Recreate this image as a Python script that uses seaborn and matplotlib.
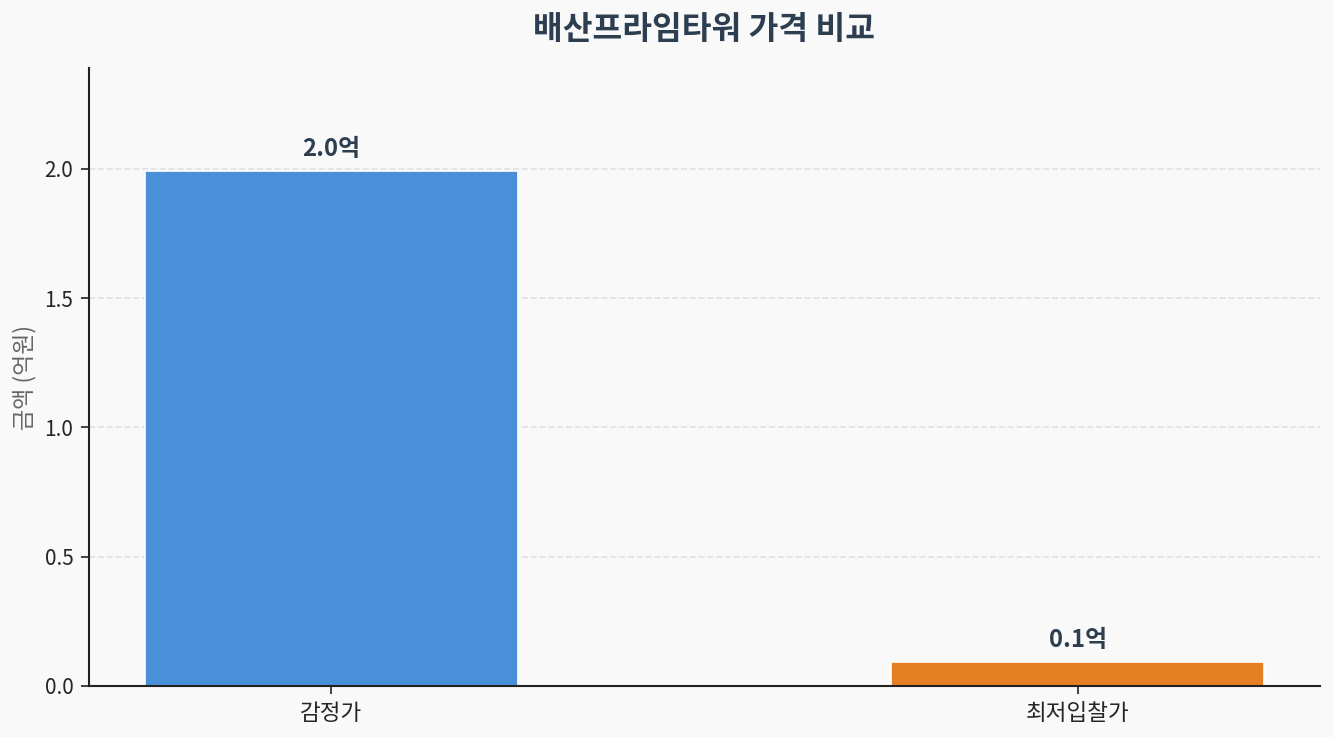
import matplotlib
matplotlib.use("Agg")
import matplotlib.pyplot as plt
import seaborn as sns
import pandas as pd

# 데이터 (억원)
categories = ["감정가", "최저입찰가"]
values = [1.992, 0.093]
value_labels = ["2.0억", "0.1억"]
bar_colors = ["#4a90d9", "#e67e22"]

sns.set_style("white")
plt.rcParams["font.family"] = ["Noto Sans CJK KR", "DejaVu Sans"]
plt.rcParams["axes.unicode_minus"] = False

df = pd.DataFrame({"항목": categories, "금액": values})

fig = plt.figure(figsize=(1334 / 150, 737 / 150), dpi=150, facecolor="#f9f9f9")
ax = fig.add_axes([89 / 1334, 51 / 737, (1320 - 89) / 1334, (686 - 68) / 737])
ax.set_facecolor("#f9f9f9")

sns.barplot(data=df, x="항목", y="금액", hue="항목", palette=bar_colors,
            width=0.5, legend=False, ax=ax, edgecolor="white", linewidth=0.8,
            saturation=1)

for i, (v, lab) in enumerate(zip(values, value_labels)):
    ax.annotate(lab, (i, v), xytext=(0, 5), textcoords="offset points",
                ha="center", va="bottom", fontsize=11.5, fontweight="bold",
                color="#2c3e50")

ax.set_ylim(0, max(values) * 1.2)
ax.set_xlim(-0.325, 1.325)
ax.set_yticks([0.0, 0.5, 1.0, 1.5, 2.0])
ax.set_yticklabels(["0.0", "0.5", "1.0", "1.5", "2.0"])
ax.set_xlabel("")
ax.set_ylabel("금액 (억원)", fontsize=11, color="#666666")
ax.set_title("배산프라임타워 가격 비교", fontsize=15.5, fontweight="bold",
             color="#2c3e50", pad=14)
ax.tick_params(axis="x", labelsize=10.8)
ax.tick_params(axis="y", labelsize=10)
ax.tick_params(axis="both", length=4, width=0.8, color="#222222",
               bottom=True, left=True)
ax.grid(axis="y", linestyle="--", alpha=0.3, color="#aaaaaa", linewidth=0.8)
ax.set_axisbelow(True)
sns.despine(ax=ax)
for s in ["left", "bottom"]:
    ax.spines[s].set_color("#222222")
    ax.spines[s].set_linewidth(1.0)

fig.savefig("out.png", dpi=150, facecolor=fig.get_facecolor())
